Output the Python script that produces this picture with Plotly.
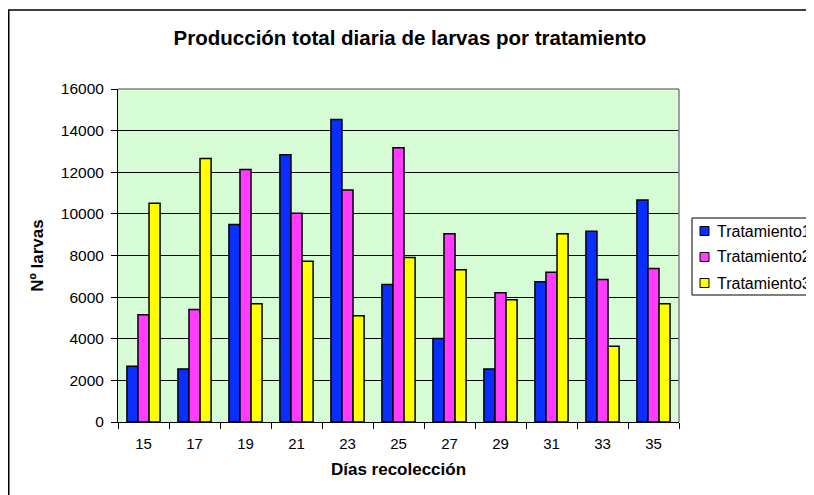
import plotly.graph_objects as go

dias = ["15", "17", "19", "21", "23", "25", "27", "29", "31", "33", "35"]
tratamiento1 = [2680, 2550, 9490, 12840, 14540, 6610, 4010, 2550, 6740, 9170, 10670]
tratamiento2 = [5150, 5410, 12130, 10030, 11150, 13180, 9040, 6210, 7190, 6850, 7370]
tratamiento3 = [10510, 12660, 5680, 7720, 5100, 7900, 7320, 5870, 9040, 3640, 5680]
y_ticks = [0, 2000, 4000, 6000, 8000, 10000, 12000, 14000, 16000]

series_names = ["Tratamiento1", "Tratamiento2", "Tratamiento3"]
series_values = [tratamiento1, tratamiento2, tratamiento3]
series_colors = ["#0A2EFF", "#FF3CFF", "#FFFF00"]

FONT = "Arial, Liberation Sans, sans-serif"

# figure geometry (plot area in figure pixels)
L, R, T, B = 110, 143, 81, 81
W, H = 814, 495
PW, PH = W - L - R, H - T - B


def px(fx):
    return (fx - L) / PW


def py(fy):
    return (H - B - fy) / PH


fig = go.Figure()
for name, vals, col in zip(series_names, series_values, series_colors):
    fig.add_trace(go.Bar(
        x=dias, y=vals, name=name, showlegend=False,
        marker=dict(color=col, line=dict(color="black", width=1.5)),
    ))

fig.update_layout(
    width=W, height=H,
    margin=dict(l=L, r=R, t=T, b=B, autoexpand=False),
    paper_bgcolor="white",
    plot_bgcolor="#D5FCD5",
    barmode="group", bargap=0.35, bargroupgap=0.0,
    font=dict(family=FONT, size=15, color="black"),
    title=dict(text="<b>Producción total diaria de larvas por tratamiento</b>",
               x=px(402), xanchor="center", xref="paper", y=0.9394, yanchor="middle",
               font=dict(size=20.5, family=FONT, color="black")),
    showlegend=False,
)

fig.update_xaxes(
    type="category", tickson="boundaries",
    ticks="outside", ticklen=6, tickcolor="black", tickwidth=1,
    showline=True, linecolor="black", linewidth=1,
    showgrid=False, ticklabelstandoff=8,
    tickfont=dict(size=15, family=FONT),
    title=dict(text="<b>Días recolección</b>", font=dict(size=17, family=FONT), standoff=12),
)
fig.update_yaxes(
    range=[0, 16000], tickvals=y_ticks, ticktext=[str(v) for v in y_ticks],
    ticks="outside", ticklen=6, tickcolor="black", tickwidth=1,
    showline=True, linecolor="black", linewidth=1,
    showgrid=True, gridcolor="black", gridwidth=1,
    zeroline=False, ticklabelstandoff=4,
    tickfont=dict(size=15.5, family=FONT),
    title=dict(text="<b>Nº larvas</b>", font=dict(size=17, family=FONT), standoff=12),
)

# plot-area border (top/right grey)
fig.add_shape(type="line", xref="paper", yref="paper", x0=0, x1=1, y0=1, y1=1,
              line=dict(color="#808080", width=1.5), layer="above")
fig.add_shape(type="line", xref="paper", yref="paper", x0=1, x1=1, y0=0, y1=1,
              line=dict(color="#808080", width=1.5), layer="above")
# outer chart frame
fig.add_shape(type="rect", xref="paper", yref="paper",
              x0=px(0.75), x1=px(W + 20), y0=py(H + 20), y1=py(2),
              line=dict(color="black", width=1.5), layer="below")

# legend (box, swatches, labels)
fig.add_shape(type="rect", xref="paper", yref="paper",
              x0=px(684), x1=px(W + 20), y0=py(287), y1=py(210),
              line=dict(color="black", width=1), fillcolor="white", layer="above")
for i, (name, col) in enumerate(zip(series_names, series_colors)):
    cy = 223 + 26 * i
    fig.add_shape(type="rect", xref="paper", yref="paper",
                  x0=px(692), x1=px(701), y0=py(cy + 4.5), y1=py(cy - 4.5),
                  line=dict(color="black", width=1), fillcolor=col, layer="above")
    fig.add_annotation(x=px(707), y=py(cy), xref="paper", yref="paper",
                       text=name, showarrow=False, xanchor="left", yanchor="middle",
                       font=dict(size=16, family=FONT, color="black"))

fig.write_html("out.html")
